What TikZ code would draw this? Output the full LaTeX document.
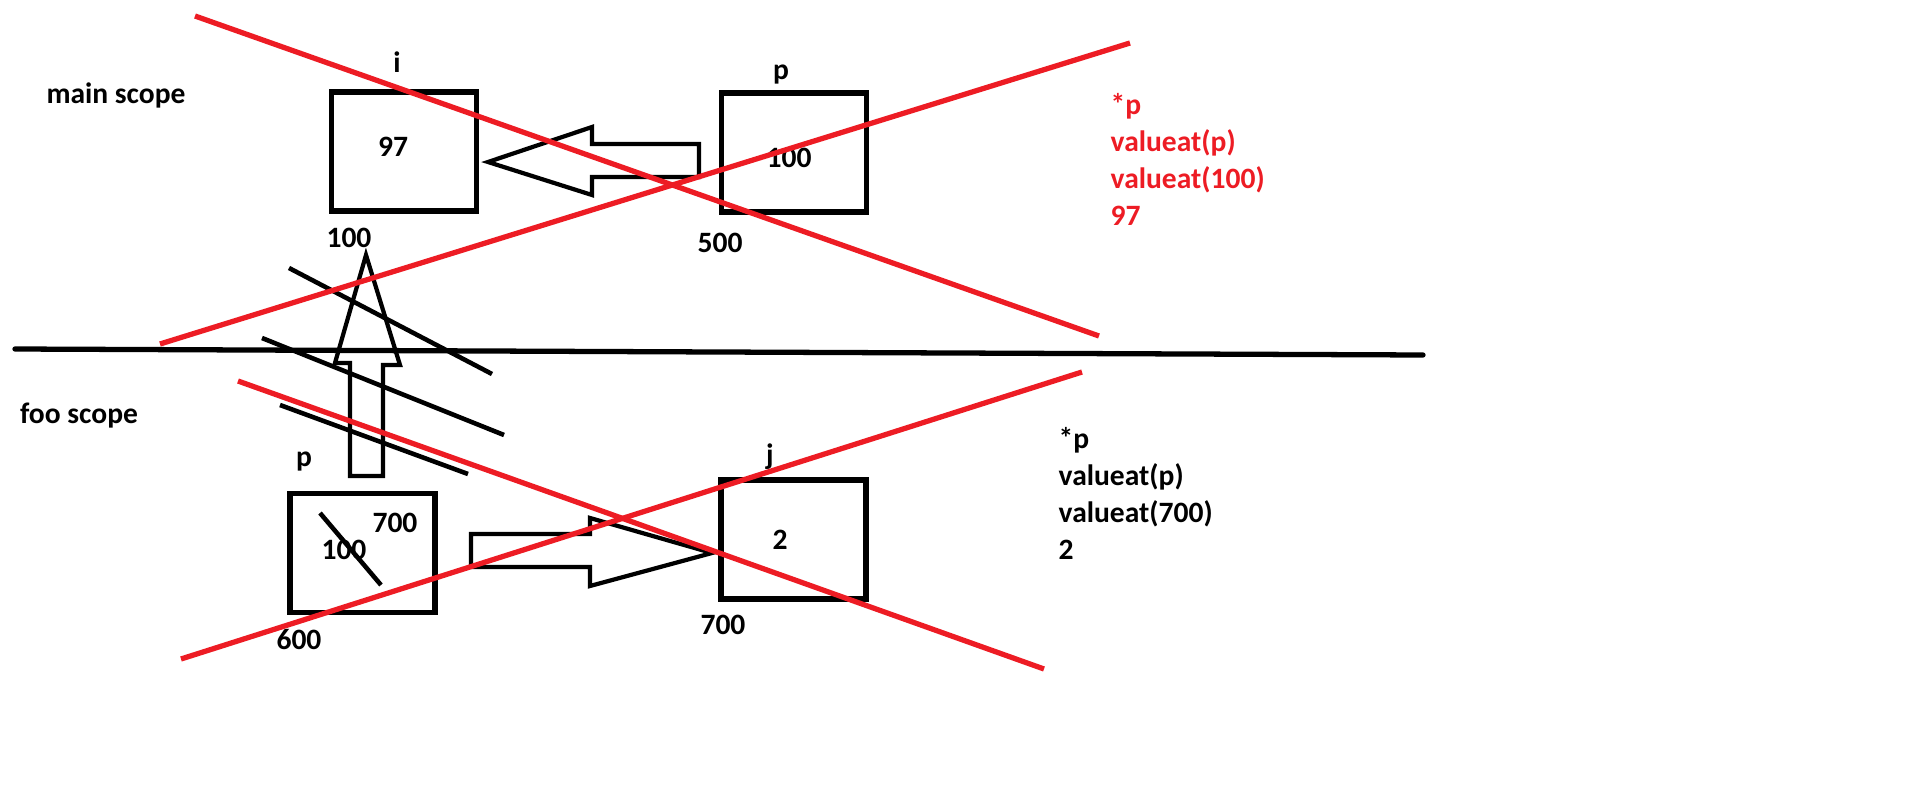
\documentclass[tikz,border=0pt]{standalone}
\usepackage{fontspec}
\setmainfont{Carlito}
\usetikzlibrary{positioning}
\definecolor{paintred}{RGB}{237,28,36}
\tikzstyle{cell} = [rectangle, draw, line width=1.6pt, minimum width=1.45cm, minimum height=1.19cm, inner sep=0pt]
\tikzstyle{tag} = [inner sep=0pt, font=\fontsize{8.4}{10.5}\selectfont\bfseries]
\tikzstyle{note} = [tag, align=left, anchor=north west]
\tikzstyle{hollow} = [line width=1.2pt, line join=miter]
\tikzstyle{scribble} = [line width=1.3pt]
\tikzstyle{cross} = [paintred, line width=1.5pt]

\begin{document}
\begin{tikzpicture}[x=0.01cm, y=-0.01cm]
    \useasboundingbox (0,0) rectangle (1914,809);

    % main scope
    \node [tag] (mainname) at (116,95) {main scope};
    \node [cell] (ibox) at (404,151.5) {};
    \node [cell] (pmain) at (794,152.5) {};
    \node [tag] (ilabel) at (397,62) {i};
    \node [tag] (pmainlabel) at (781,75) {p};
    \node [tag] (ival) at (393,147) {97};
    \node [tag] (pmainval) at (789,158) {100};
    \node [tag] (iaddr) at (349,238) {100};
    \node [tag] (pmainaddr) at (720,243) {500};
    \node [note, text=paintred] (mainnote) at (1110,93) {*p\\valueat(p)\\valueat(100)\\97};

    \draw[hollow] (699,144) -- (592,144) -- (592,127) -- (488,162) -- (592,195) -- (592,177) -- (699,177) -- cycle;

    % divider
    \coordinate (divleft) at (15,349);
    \coordinate (divright) at (1423,355);
    \draw[line width=1.5pt, line cap=round] (divleft) -- (divright);

    % foo scope
    \node [tag] (fooname) at (79,416) {foo scope};
    \node [cell] (pfoo) at (362.5,553) {};
    \node [cell] (jbox) at (793.5,539.5) {};
    \node [tag] (pfoolabel) at (304,462) {p};
    \node [tag] (jlabel) at (770,457) {j};
    \node [tag] (pfooval) at (344,550) {100};
    \node [tag] (pfoonew) at (395,523) {700};
    \node [tag] (jval) at (780,540) {2};
    \node [tag] (pfooaddr) at (299,640) {600};
    \node [tag] (jaddr) at (723,625) {700};
    \node [note] (foonote) at (1058,427) {*p\\valueat(p)\\valueat(700)\\2};

    \draw[hollow] (471,534) -- (590,534) -- (590,518) -- (712,553) -- (590,586) -- (590,567) -- (471,567) -- cycle;
    \draw[hollow] (350,476) -- (350,363) -- (335,363) -- (366,255) -- (400,365) -- (383,365) -- (383,476) -- cycle;

    % crossed out by hand
    \draw[scribble] (320,513) -- (381,585);
    \draw[scribble] (289,268) -- (492,374);
    \draw[scribble] (262,338) -- (504,435);
    \draw[scribble] (280,405) -- (468,474);

    \draw[cross] (195,16) -- (1099,336);
    \draw[cross] (160,344) -- (1130,43);
    \draw[cross] (238,381) -- (1044,669);
    \draw[cross] (181,659) -- (1082,372);
\end{tikzpicture}
\end{document}
